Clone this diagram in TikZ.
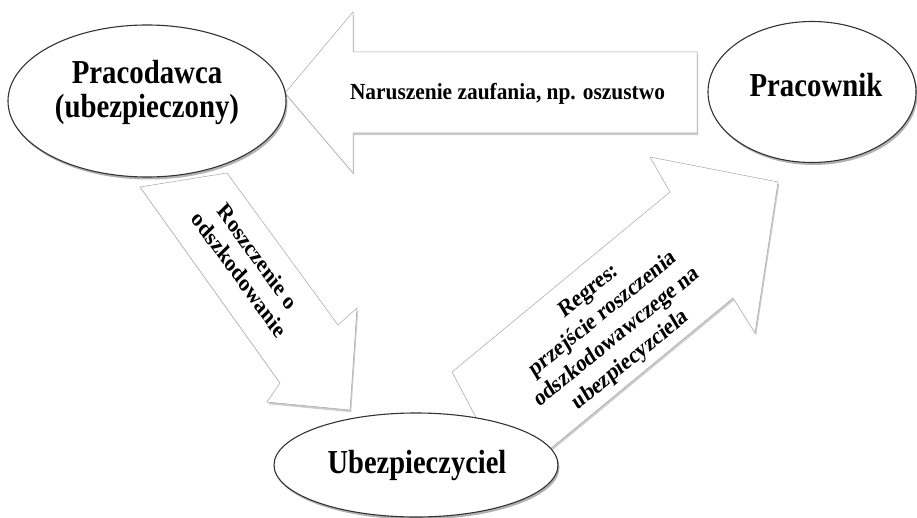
\documentclass[tikz,border=0pt]{standalone}
\usepackage{fontspec}
\usepackage{graphicx}
\setmainfont{Liberation Serif}
\usetikzlibrary{shapes.geometric,shadows}

\newcommand{\sqtext}[2]{\scalebox{#1}[1]{\begin{tabular}{@{}c@{}}#2\end{tabular}}}
\newcommand{\sqrot}[3]{\scalebox{#1}[1]{\rotatebox{#2}{\begin{tabular}{@{}c@{}}#3\end{tabular}}}}

\tikzset{
  ell/.style={ellipse, draw=black!80, line width=1.1pt, fill=white, inner sep=0pt,
    drop shadow={shadow xshift=1.5pt, shadow yshift=-2.5pt, fill=black!55, opacity=0.55}},
  blockarrow/.style={draw=black!35, line width=0.5pt, fill=white,
    drop shadow={shadow xshift=1.2pt, shadow yshift=-2.2pt, fill=black!45, opacity=0.45}},
  bigtxt/.style={inner sep=0pt, font=\bfseries\fontsize{33.5}{34}\selectfont},
  midtxt/.style={inner sep=0pt, font=\bfseries\fontsize{23}{27}\selectfont},
  arrtxt/.style={inner sep=0pt, font=\bfseries\fontsize{24}{28}\selectfont}
}

\begin{document}
\begin{tikzpicture}[x=1pt,y=-1pt]
\useasboundingbox (0,0) rectangle (917,518);
\fill[white] (0,0) rectangle (917,518);

% block arrows
\draw[blockarrow] (285,93) -- (353,12) -- (353,52) -- (697,52) -- (697,133)
  -- (353,133) -- (353,173) -- cycle;
\draw[blockarrow] (140,187) -- (280,383) -- (267,402) -- (350,410) -- (357,308)
  -- (338,325) -- (227,173) -- cycle;
\draw[blockarrow] (452,372) -- (670,192) -- (650,157) -- (778,182) -- (755,333)
  -- (733,298) -- (510,482) -- cycle;

% ellipses
\node[ell, minimum width=278pt, minimum height=152pt] (emp) at (147,101) {};
\node[ell, minimum width=208pt, minimum height=141pt] (worker) at (812,92) {};
\node[ell, minimum width=284pt, minimum height=104pt] (insurer) at (416,465) {};

% texts
\node[bigtxt] (tEmp) at (147,94) {\sqtext{0.86}{Pracodawca\\(ubezpieczony)}};
\node[bigtxt] (tWorker) at (816,90) {\sqtext{0.86}{Pracownik}};
\node[bigtxt] (tIns) at (417,467) {\sqtext{0.85}{Ubezpieczyciel}};
\node[midtxt] (tBreach) at (507.5,94.5) {\sqtext{0.93}{Naruszenie zaufania, np. oszustwo}};
\node[arrtxt] (tClaim) at (247,267) {\sqrot{0.86}{-50}{Roszczenie o\\odszkodowanie}};
\node[arrtxt] (tRegres) at (610,326) {\sqrot{0.86}{35}{Regres:\\przejście roszczenia\\odszkodowawczege na\\ubezpiecyzciela}};
\end{tikzpicture}
\end{document}
